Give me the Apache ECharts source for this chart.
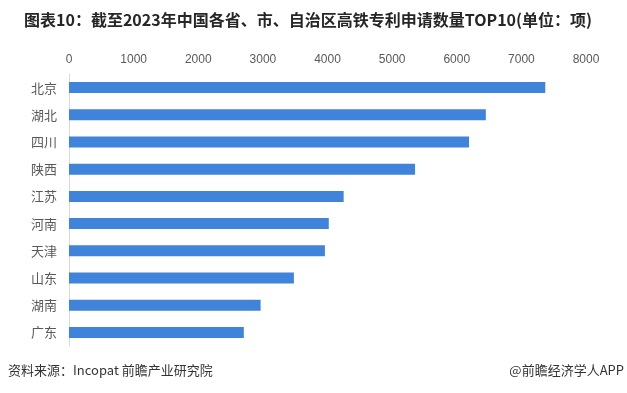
<!DOCTYPE html>
<html>
<head>
<meta charset="utf-8">
<script src="https://cdn.jsdelivr.net/npm/echarts@6/dist/echarts.min.js"></script>
<style>
html,body{margin:0;padding:0;background:#fff;}
#c{width:627px;height:393px;}
</style>
</head>
<body>
<div id="c"></div>
<script>
const categories = ['北京','湖北','四川','陕西','江苏','河南','天津','山东','湖南','广东'];
const values = [7370, 6450, 6190, 5355, 4250, 4020, 3960, 3480, 2965, 2705];
const valueTicks = [0, 1000, 2000, 3000, 4000, 5000, 6000, 7000, 8000];
const titleText = '图表10：截至2023年中国各省、市、自治区高铁专利申请数量TOP10(单位：项)';
const sourceText = '资料来源：Incopat 前瞻产业研究院';
const brandText = '@前瞻经济学人APP';

const chart = echarts.init(document.getElementById('c'), null, {renderer: 'canvas'});
chart.setOption({
  backgroundColor: '#ffffff',
  animation: false,
  title: {
    text: titleText,
    left: 19,
    top: 7,
    textStyle: {
      fontFamily: 'Noto Sans CJK SC',
      fontWeight: 'bold',
      fontSize: 16,
      color: '#262626'
    }
  },
  grid: {left: 69, right: 41, top: 74, bottom: 47},
  xAxis: {
    type: 'value',
    position: 'top',
    min: valueTicks[0],
    max: valueTicks[valueTicks.length - 1],
    interval: valueTicks[1] - valueTicks[0],
    axisLine: {show: false},
    axisTick: {show: false},
    splitLine: {show: false},
    axisLabel: {
      margin: 8,
      fontFamily: 'Liberation Sans',
      fontSize: 12,
      color: '#595959',
      formatter: function (v) { return String(v); }
    }
  },
  yAxis: {
    type: 'category',
    inverse: true,
    data: categories,
    axisLine: {show: true, lineStyle: {color: '#d9d9d9', width: 1}},
    axisTick: {show: false},
    axisLabel: {
      margin: 12,
      fontFamily: 'Noto Sans CJK SC',
      fontSize: 13,
      color: '#595959'
    }
  },
  series: [{
    type: 'bar',
    data: values,
    barWidth: 11,
    itemStyle: {color: '#3F83DB'}
  }],
  graphic: [
    {
      type: 'text',
      left: 8,
      top: 364,
      style: {
        text: sourceText,
        font: '13px "Noto Sans CJK SC"',
        fill: '#333333'
      }
    },
    {
      type: 'text',
      right: 3,
      top: 364,
      style: {
        text: brandText,
        font: '13px "Noto Sans CJK SC"',
        fill: '#333333'
      }
    }
  ]
});
</script>
</body>
</html>
